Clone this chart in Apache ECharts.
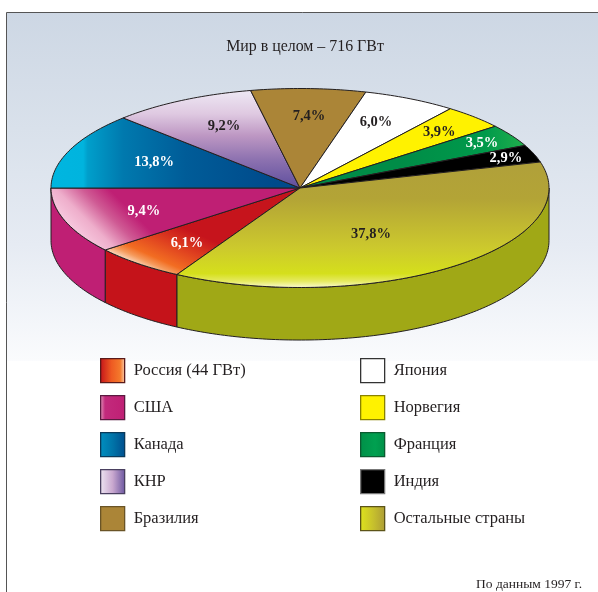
<!DOCTYPE html>
<html><head><meta charset="utf-8">
<style>html,body{margin:0;padding:0;background:#fff}#c{width:598px;height:592px}</style>
<script src="https://cdn.jsdelivr.net/npm/echarts@6/dist/echarts.min.js"></script>
</head><body><div id="c"></div>
<script>
const names = ['Россия (44 ГВт)','США','Канада','КНР','Бразилия','Япония','Норвегия','Франция','Индия','Остальные страны'];
// printed labels
const percentLabels = ['6,1%','9,4%','13,8%','9,2%','7,4%','6,0%','3,9%','3,5%','2,9%','37,8%'];
const drawnShare = [6.08,10.69,12.44,9.39,7.44,6.06,4.03,3.61,2.83,37.43];

const startAngle = 240.4;            // rim angle of the first slice, clockwise from there
const depth = 0.528;                 // wall height in y-axis units
const labelAnchors = [[-.454,-.553],[-.627,-.231],[-.586,.261],[-.305,.623],[.036,.724],[.305,.663],[.559,.563],[.731,.452],[.827,.302],[.285,-.462]];
const labelColors = ['#fff','#fff','#fff','#231f20','#231f20','#231f20','#231f20','#fff','#fff','#231f20'];
const wallColors = {0:'#c5131a',1:'#bf1f74',9:'#a0a816'};

const G = (x1,y1,x2,y2,stops,glob)=>new echarts.graphic.LinearGradient(x1,y1,x2,y2,stops.map(s=>({offset:s[0],color:s[1]})),glob);
const topFills = [
  G(146,270,172,212,[[0,'#fde3cf'],[.13,'#f59a5c'],[.24,'#f26d22'],[.55,'#de3e1f'],[.85,'#c6141c'],[1,'#c6141c']],true),
  G(80,236,118,198,[[0,'#f7c8de'],[.3,'#eeaecb'],[.65,'#cf5a94'],[1,'#bf1f74']],true),
  G(52,0,275,0,[[0,'#00b6e0'],[.14,'#00b4de'],[.16,'#009fcb'],[.32,'#0079ae'],[.6,'#005c98'],[1,'#004a8b']],true),
  G(0,93,0,188,[[0,'#ece5f2'],[.22,'#dfc9e1'],[.45,'#bd97c3'],[.7,'#8d72b0'],[1,'#5f4f9e']],true),
  '#ab8537','#ffffff','#fff200',
  G(400,0,522,0,[[0,'#008c47'],[.7,'#009a4b'],[1,'#1fae4c']],true),
  '#000000',
  G(0,160,0,289,[[0,'#b0a03a'],[.3,'#b3a436'],[.68,'#ccc92d'],[.88,'#d5df1c'],[.94,'#e6ea62'],[1,'#fffee6']],true)
];
const swatchFills = [
  G(0,0,1,0,[[0,'#c5131a'],[.45,'#ee5a22'],[.8,'#f47a2c'],[1,'#fbd3b8']]),
  G(0,0,1,0,[[0,'#e79cc0'],[.2,'#c22a7c'],[1,'#bf1f74']]),
  G(0,0,1,0,[[0,'#008fc0'],[.5,'#0074a8'],[1,'#004e8e']]),
  G(0,0,1,0,[[0,'#eee6f2'],[.5,'#c9a8cf'],[1,'#6a559f']]),
  '#ab8537','#ffffff','#fff200',
  G(0,0,1,0,[[0,'#009048'],[.6,'#00a050'],[1,'#009048']]),
  '#000000',
  G(0,0,1,0,[[0,'#dfe31c'],[.5,'#c8c22c'],[1,'#ac9c36']])
];
const swatchBorders = ['#5a1a1a','#5a1a40','#0a3a5a','#4a4060','#6a5426','#333','#8a8200','#0b5a30','#777','#5c5418'];

const total = drawnShare.reduce((a,b)=>a+b,0);
const edges = [startAngle];
drawnShare.forEach(v=>edges.push(edges[edges.length-1]-v/total*360));
const rim = (deg,dy)=>[Math.cos(deg*Math.PI/180),Math.sin(deg*Math.PI/180)+(dy||0)];

function arcPts(a1,a2,dy,api){
  const n=Math.max(2,Math.ceil(Math.abs(a1-a2)));
  const p=[];
  for(let k=0;k<=n;k++) p.push(api.coord(rim(a1+(a2-a1)*k/n,dy)));
  return p;
}
function wallItem(api){
  const i=api.value(0);
  if(!(i in wallColors)) return null;
  // only the front half of the rim (below the 0° to 180° line) shows a wall
  const a1=edges[i]>0&&edges[i]<180?0:edges[i], a2=edges[i+1];
  const pts=arcPts(a1,a2,0,api).concat(arcPts(a2,a1,-depth,api));
  return {type:'polygon',shape:{points:pts},z2:1,style:{fill:wallColors[i],stroke:'#231f20',lineWidth:1}};
}
function topItem(api){
  const i=api.value(0);
  const pts=[api.coord([0,0])].concat(arcPts(edges[i],edges[i+1],0,api));
  return {type:'polygon',shape:{points:pts},z2:2,style:{fill:topFills[i],stroke:'#231f20',lineWidth:1,lineJoin:'round'}};
}
function labelItem(api){
  const i=api.value(0), p=api.coord(labelAnchors[i]);
  return {type:'text',z2:5,x:p[0],y:p[1],style:{text:percentLabels[i],fill:labelColors[i],align:'center',verticalAlign:'middle',
    font:'bold 14.5px "Liberation Serif"'}};
}
// painted in three passes: walls, then tops, then labels
const series=[];
names.forEach((nm,i)=>series.push({name:nm,type:'custom',coordinateSystem:'cartesian2d',z:2,data:[[i,drawnShare[i]]],silent:true,animation:false,
  renderItem:(p,api)=>wallItem(api)||{type:'group',children:[]}}));
names.forEach((nm,i)=>series.push({name:nm,type:'custom',coordinateSystem:'cartesian2d',z:3,data:[[i,drawnShare[i]]],silent:true,animation:false,
  renderItem:(p,api)=>topItem(api)}));
names.forEach((nm,i)=>series.push({name:nm,type:'custom',coordinateSystem:'cartesian2d',z:4,data:[[i,drawnShare[i]]],silent:true,animation:false,
  renderItem:(p,api)=>labelItem(api)}));

const legendBase={orient:'vertical',padding:0,itemWidth:24,itemHeight:24,itemGap:11.7,icon:'rect',selectedMode:false,top:358,
  textStyle:{fontFamily:'"Liberation Serif"',fontSize:16.5,color:'#231f20',padding:[0,0,0,4]}};
const legItems=idx=>idx.map(i=>({name:names[i],icon:'rect',itemStyle:{color:swatchFills[i],borderColor:swatchBorders[i],borderWidth:1.3,opacity:1}}));

const chart=echarts.init(document.getElementById('c'),null,{renderer:'canvas'});
chart.setOption({
  animation:false,
  backgroundColor:'#fff',
  title:[
    {text:'Мир в целом – 716 ГВт',padding:0,left:305,top:39,textAlign:'center',textStyle:{fontFamily:'"Liberation Serif"',fontSize:15.9,fontWeight:'normal',color:'#231f20'}},
    {text:'По данным 1997 г.',padding:0,left:582,top:577,textAlign:'right',textStyle:{fontFamily:'"Liberation Serif"',fontSize:13.5,fontWeight:'normal',color:'#231f20'}}
  ],
  graphic:[{type:'rect',z:-10,silent:true,shape:{x:6.5,y:12.5,width:640,height:640},
    style:{fill:G(0,13,0,592,[[0,'#cdd7e4'],[.2,'#d9e1eb'],[.4,'#e6ebf3'],[.6,'#fafbfd'],[.601,'#ffffff'],[1,'#ffffff']],true),stroke:'#555',lineWidth:1}}],
  grid:{left:51,top:88.5,width:498,height:199,containLabel:false},
  xAxis:{type:'value',min:-1,max:1,show:false},
  yAxis:{type:'value',min:-1,max:1,show:false},
  legend:[
    Object.assign({},legendBase,{left:100,data:legItems([0,1,2,3,4])}),
    Object.assign({},legendBase,{left:360,data:legItems([5,6,7,8,9])})
  ],
  series
});
</script></body></html>
